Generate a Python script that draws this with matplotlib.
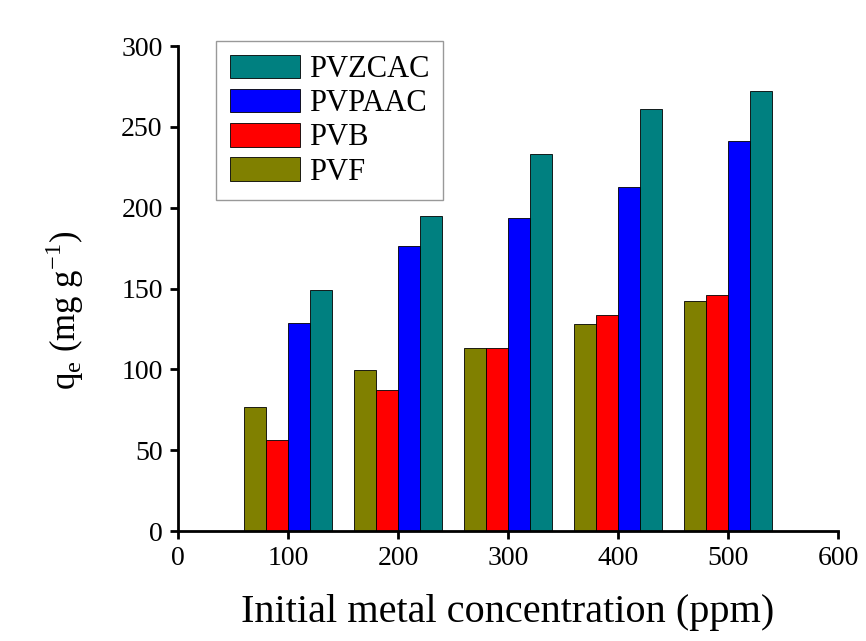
import numpy as np
import matplotlib.pyplot as plt

plt.rcParams['font.family'] = ['Liberation Serif', 'DejaVu Serif']

conc = [100, 200, 300, 400, 500]
pvf = [76.5, 99.5, 113.5, 128, 142]
pvb = [56, 87.5, 113, 133.5, 146]
pvpaac = [128.5, 176, 193.5, 213, 241]
pvzcac = [149, 195, 233, 261, 272]

series = [('PVF', pvf, '#808000'), ('PVB', pvb, '#ff0000'),
          ('PVPAAC', pvpaac, '#0000ff'), ('PVZCAC', pvzcac, '#008080')]
offsets = [-40, -20, 0, 20]
w = 20

fig = plt.figure(figsize=(8.66, 6.41), dpi=100)
ax = fig.add_axes([0.2055, 0.1716, 0.7622, 0.7566])
x = np.array(conc)
handles = {}
for (name, vals, col), off in zip(series, offsets):
    b = ax.bar(x + off, vals, width=w, align='edge', color=col,
               edgecolor='black', linewidth=0.6, label=name)
    handles[name] = b

ax.set_xlim(0, 600)
ax.set_ylim(0, 300)
ax.set_xticks(range(0, 601, 100))
ax.set_yticks(range(0, 301, 50))
for s in ['top', 'right']:
    ax.spines[s].set_visible(False)
for s in ['left', 'bottom']:
    ax.spines[s].set_linewidth(2)
ax.tick_params(direction='out', length=6, width=2, labelsize=20, pad=5)
ax.set_xlabel('Initial metal concentration (ppm)', fontsize=29, labelpad=16)
ax.set_ylabel(r'q$_\mathregular{e}$ (mg g$^\mathregular{-1}$)', fontsize=25)
ax.yaxis.set_label_coords(-0.14, 0.455)

order = ['PVZCAC', 'PVPAAC', 'PVB', 'PVF']
leg = ax.legend([handles[n] for n in order], order, loc='upper left',
                bbox_to_anchor=(0.0576, 1.0103), fontsize=22, frameon=True,
                fancybox=False, edgecolor='gray', handlelength=2.29,
                handleheight=0.8, labelspacing=0.16, borderpad=0.45,
                handletextpad=0.3, borderaxespad=0)
leg.get_frame().set_linewidth(1)

fig.savefig('out.png', dpi=100)
